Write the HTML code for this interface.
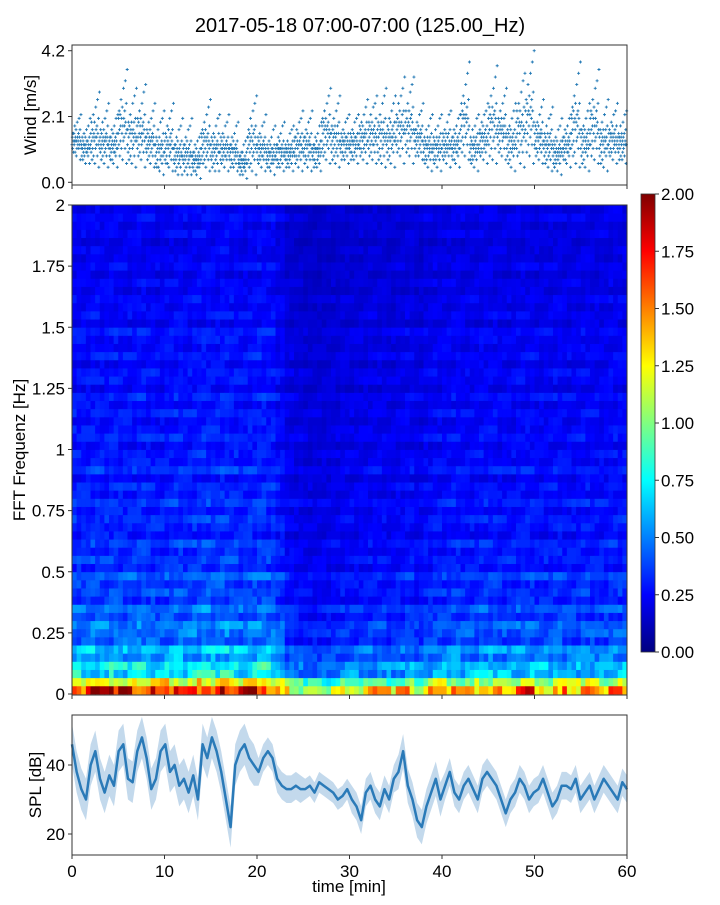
<!DOCTYPE html>
<html><head><meta charset="utf-8">
<style>
body{margin:0;background:#fff;}
svg text{font-family:"Liberation Sans",sans-serif;fill:#000;}
</style></head>
<body>
<svg id="fig" width="720" height="900" xmlns="http://www.w3.org/2000/svg">
<text x="360" y="32" font-size="20" text-anchor="middle">2017-05-18 07:00-07:00 (125.00_Hz)</text>
<g id="wind"></g>
<g id="spec"></g>
<g id="cbar"></g>
<g id="spl"></g>
</svg>
<script>
const windLow=[.7,.5,.3,.4,.4,.4,.3,.4,.4,.1,.2,.1,.1,.1,.2,.2,.3,.3,.1,.1,.3,.2,.3,.3,.3,.3,.3,.5,.3,.5,.5,.5,.5,.3,.4,.5,.5,.6,.3,.3,.4,.4,.5,.3,.5,.4,.6,.3,.3,.4,.5,.3,.2,.4,.3,.3,.4,.3,.5,.5];
const windHigh=[2.2,2.0,2.9,2.5,2.2,3.6,3.0,3.1,2.5,2.3,2.5,2.0,2.0,1.6,2.6,2.2,2.1,1.9,1.4,2.8,2.1,1.8,1.9,1.8,2.3,2.3,1.9,3.0,2.8,2.2,2.2,2.6,2.8,3.0,2.8,3.3,3.4,2.5,2.2,2.2,2.3,2.2,3.8,2.2,2.5,3.7,3.0,2.5,3.5,4.2,2.6,2.4,2.0,2.2,3.8,2.5,3.6,2.6,2.5,2.3];
const windTicks=[0.0,2.1,4.2];
const splMid=[46,38,33,30,40,44,36,32,37,34,44,46,36,35,44,48,42,33,36,44,46,38,40,34,36,32,37,30,46,42,48,44,38,30,22,40,44,46,42,40,38,42,44,42,36,34,33,33,34,33,33,34,32,35,34,33,32,30,31,33,30,28,24,32,34,30,28,33,30,36,38,44,34,30,24,22,28,32,36,30,34,38,32,30,34,36,33,30,36,38,36,34,30,26,30,32,36,34,30,32,33,36,32,28,30,34,34,33,36,30,32,34,30,33,36,34,32,30,35,33];
const splSpread=[6,6,6,6,4,3,4,5,4,4,4,4];
const splTicks=[20,40];
const timeTicks=[0,10,20,30,40,50,60];
const freqTicks=[0,0.25,0.5,0.75,1,1.25,1.5,1.75,2];
const freqTickLabels=["0","0.25","0.5","0.75","1","1.25","1.5","1.75","2"];
const cbarTicks=[0,0.25,0.5,0.75,1,1.25,1.5,1.75,2];
const specBase=[1.5,0.95,0.72,0.6,0.52,0.47,0.44,0.42,0.4,0.38,0.36,0.35,0.34,0.33,0.32,0.31,0.3,0.3,0.29,0.29,0.28,0.28,0.28,0.27,0.27,0.27,0.26,0.26,0.26,0.26,0.25,0.25,0.25,0.25,0.25,0.24,0.24,0.24,0.24,0.24,0.23,0.23,0.23,0.23,0.22,0.22,0.22,0.22,0.21,0.21,0.21,0.21,0.2,0.2,0.2,0.2,0.2,0.2,0.2,0.2];
const specTime=[1.1,1.1,1.15,1.1,1.15,1.1,1.1,1.15,1.1,1.05,1.1,1.15,1.1,1.15,1.2,1.15,1.2,1.15,1.1,1.15,1.2,1.15,1.0,0.8,0.75,0.7,0.7,0.72,0.75,0.8,0.8,0.82,0.85,0.85,0.8,0.85,0.9,0.8,0.9,0.95,0.95,1.0,0.95,0.95,1.0,1.0,0.95,0.95,1.0,1.0,0.95,0.95,1.0,0.95,0.95,1.0,0.95,0.95,1.0,1.0];
const specTex=[1.0,1.35,0.7,1.15,0.85,1.45,0.65,1.0,1.25,0.8,1.4,0.7,1.05,0.9,1.5,0.75,1.15,0.85,1.3,0.65,1.0,1.2,0.8,1.4,0.85,1.1,0.7,1.45,0.9,1.05,0.75,1.3,1.0,0.8,1.2,0.85,1.35,0.65,1.05,1.15,0.75,1.3,0.9,1.0,1.45,0.7,1.15,0.85,1.25,0.8,1.1,0.7,1.3,0.9,1.0,0.75,1.2,0.85,1.35,0.95];
const windPattern=[0.35,0.5,0.25,0.6,0.4,0.15,0.55,0.3,0.45,0.7,0.2,0.5,0.38,0.62,0.1,0.45,0.28,0.8,0.52,0.33,0.42,0.58,0.22,0.9,0.48,0.36,0.65,0.05,0.4,1.0];
const NS='http://www.w3.org/2000/svg';
function el(t,a,p){const e=document.createElementNS(NS,t);for(const k in a)e.setAttribute(k,a[k]);p.appendChild(e);return e;}
const X0=72,X1=627;
const xs=t=>X0+(t/60)*(X1-X0);
function jet(v){v=Math.max(0,Math.min(1,v));const r=Math.min(1,Math.max(0,1.5-Math.abs(4*v-3))),g=Math.min(1,Math.max(0,1.5-Math.abs(4*v-2))),b=Math.min(1,Math.max(0,1.5-Math.abs(4*v-1)));return `rgb(${Math.round(r*255)},${Math.round(g*255)},${Math.round(b*255)})`;}
function xTicks(g,y0,y1,labels){timeTicks.forEach(t=>{const l=el('line',{x1:xs(t),x2:xs(t),y1:y1,y2:y1+4,stroke:'#333'},g);if(labels){const tx=el('text',{x:xs(t),y:y1+22,'font-size':17,'text-anchor':'middle'},g);tx.textContent=t;}});}
// wind panel
(function(){const g=document.getElementById('wind');const T=45,B=185;const ys=v=>182.3-v*31.33;
for(let m=0;m<60;m++){for(let k=0;k<windPattern.length;k++){let v=windLow[m]+windPattern[k]*(windHigh[m]-windLow[m]);v=Math.round(v/0.12)*0.12;const t=m+k/windPattern.length;const x=xs(t),y=ys(v);
const p=el('path',{d:`M${x-1.5},${y}h3M${x},${y-1.5}v3`,stroke:'#1f77b4','stroke-width':0.9},g);}}
const f=el('rect',{x:X0,y:T,width:X1-X0,height:B-T,fill:'none',stroke:'#333'},g);
windTicks.forEach(v=>{const l=el('line',{x1:X0-4,x2:X0,y1:ys(v),y2:ys(v),stroke:'#333'},g);const tx=el('text',{x:X0-7,y:ys(v)+6,'font-size':17,'text-anchor':'end'},g);tx.textContent=v.toFixed(1);});
const yl=el('text',{x:36,y:115,'font-size':17,'text-anchor':'middle',transform:'rotate(-90 36 115)'},g);yl.textContent='Wind [m/s]';
xTicks(g,T,B,false);})();
// spectrogram
(function(){const g=document.getElementById('spec');const T=205,B=695;const ys=f=>694-f*(694-205)/2;const rows=specBase.length,dh=(B-T)/rows;const cols=120;
for(let c=0;c<cols;c++){const tc=Math.floor(c/2);for(let r=0;r<rows;r++){const tex=0.45*specTex[r]+0.55*specTex[(r*7+c*13)%rows];const v=specBase[r]*specTime[tc]*tex;const f0=r*2/rows;
const rc=el('rect',{x:xs(c/2),y:ys(f0+2/rows),width:(X1-X0)/cols+0.4,height:dh+0.4,fill:jet(v/2)},g);}}
const f=el('rect',{x:X0,y:T,width:X1-X0,height:B-T,fill:'none',stroke:'#333'},g);
freqTicks.forEach((v,i)=>{const l=el('line',{x1:X0-4,x2:X0,y1:ys(v),y2:ys(v),stroke:'#333'},g);const tx=el('text',{x:X0-7,y:ys(v)+6,'font-size':17,'text-anchor':'end'},g);tx.textContent=freqTickLabels[i];});
const yl=el('text',{x:25,y:450,'font-size':17,'text-anchor':'middle',transform:'rotate(-90 25 450)'},g);yl.textContent='FFT Frequenz [Hz]';
xTicks(g,T,B,false);})();
// colorbar
(function(){const g=document.getElementById('cbar');const T=194,B=652,L=641,W=14;const ys=v=>B-v/2*(B-T);
const d=el('defs',{},g);const lg=el('linearGradient',{id:'jetg',x1:0,y1:1,x2:0,y2:0},d);for(let i=0;i<=16;i++){el('stop',{offset:i/16,'stop-color':jet(i/16)},lg);}
const r=el('rect',{x:L,y:T,width:W,height:B-T,fill:'url(#jetg)',stroke:'#333','stroke-width':0.8},g);
cbarTicks.forEach(v=>{const l=el('line',{x1:L+W,x2:L+W+4,y1:ys(v),y2:ys(v),stroke:'#333'},g);const tx=el('text',{x:L+W+6,y:ys(v)+6,'font-size':17},g);tx.textContent=v.toFixed(2);});})();
// SPL
(function(){const g=document.getElementById('spl');const T=715,B=855;const ys=v=>765-(v-40)*3.45;const n=splMid.length;
let up='',lo='';for(let i=0;i<n;i++){const t=i*60/(n-1);const s=splSpread[Math.min(11,Math.floor(t/5))];up+=(i?'L':'M')+xs(t)+','+ys(splMid[i]+s);}
for(let i=n-1;i>=0;i--){const t=i*60/(n-1);const s=splSpread[Math.min(11,Math.floor(t/5))];lo+='L'+xs(t)+','+ys(splMid[i]-s);}
const a=el('path',{d:up+lo+'Z',fill:'#c3d9ec',stroke:'none'},g);
let md='';for(let i=0;i<n;i++){const t=i*60/(n-1);md+=(i?'L':'M')+xs(t)+','+ys(splMid[i]);}
const ln=el('path',{d:md,fill:'none',stroke:'#2a7ab8','stroke-width':2.5,'stroke-linejoin':'round'},g);
const f=el('rect',{x:X0,y:T,width:X1-X0,height:B-T,fill:'none',stroke:'#333'},g);
splTicks.forEach(v=>{const l=el('line',{x1:X0-4,x2:X0,y1:ys(v),y2:ys(v),stroke:'#333'},g);const tx=el('text',{x:X0-7,y:ys(v)+6,'font-size':17,'text-anchor':'end'},g);tx.textContent=v;});
const yl=el('text',{x:41,y:785,'font-size':17,'text-anchor':'middle',transform:'rotate(-90 41 785)'},g);yl.textContent='SPL [dB]';
xTicks(g,T,B,true);
const xl=el('text',{x:349,y:892,'font-size':17,'text-anchor':'middle'},g);xl.textContent='time [min]';})();
</script>
</body></html>
